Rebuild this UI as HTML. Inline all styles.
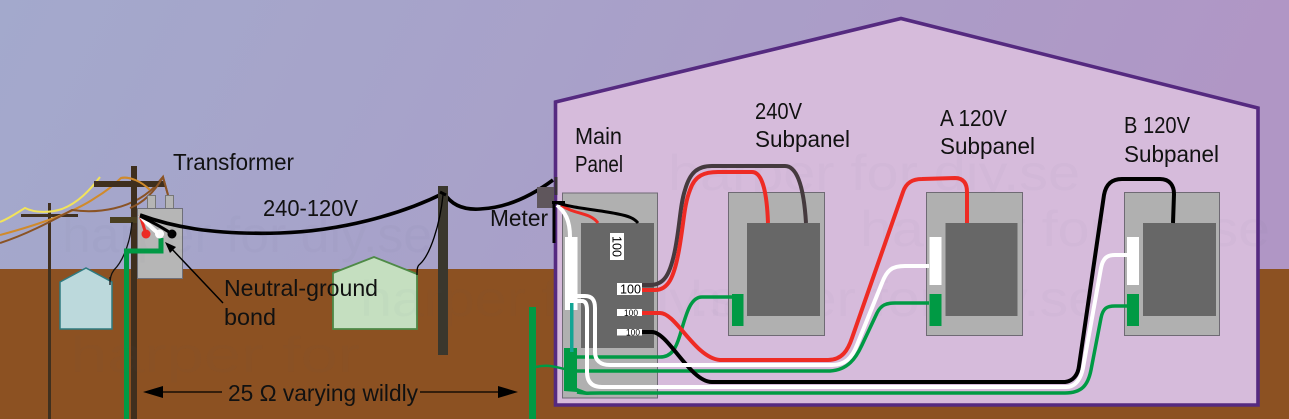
<!DOCTYPE html>
<html><head><meta charset="utf-8"><style>
html,body{margin:0;padding:0;width:1289px;height:419px;overflow:hidden}
svg{display:block}
text{font-family:"Liberation Sans",sans-serif;font-size:23px;fill:#111}
text.w{font-size:50px;fill:#6a5a80;fill-opacity:.03}
text.n{font-size:13px;fill:#000}
</style></head><body>
<svg width="1289" height="419" viewBox="0 0 1289 419" xmlns="http://www.w3.org/2000/svg">
<defs><linearGradient id="sky" x1="0" y1="0" x2="1" y2="0.1"><stop offset="0" stop-color="#a3a9cc"/><stop offset=".45" stop-color="#a8a1c9"/><stop offset="1" stop-color="#b096c5"/></linearGradient></defs>
<rect width="1289" height="270" fill="url(#sky)"/>
<rect y="269" width="1289" height="150" fill="#8c5122"/>

<!-- left poles -->
<rect x="48" y="203" width="3" height="216" fill="#40301f"/>
<rect x="21" y="214" width="57" height="3" fill="#40301f"/>
<g fill="none" stroke-width="2">
<path d="M0 222 C10 218 18 212 25 208 C35 213 50 213 62 209 C78 203 90 190 100 177" stroke="#f2e35a"/>
<path d="M0 235 C30 227 70 215 95 198 C105 192 115 184 121 178 C130 176 142 182 150 190" stroke="#d08a2c"/>
<path d="M0 243 C25 235 50 222 72 210 C100 214 130 208 150 191 C156 186 160 180 163 177 L168 195" stroke="#8a5325"/>
</g>
<rect x="131" y="166" width="6" height="253" fill="#3f2f1e"/>
<rect x="94" y="181" width="71" height="6" fill="#3f2f1e"/>
<rect x="110" y="217" width="27" height="6" fill="#4a3f20"/>
<g fill="none" stroke-width="2">
<path d="M121 178 C130 176 142 182 150 190" stroke="#d08a2c"/>
<path d="M130 208 C140 204 152 196 163 177 L168 195" stroke="#8a5325"/>
</g>
<!-- transformer -->
<rect x="147.500" y="195.500" width="8" height="14" fill="#b5b5b5" stroke="#777"/>
<rect x="165.500" y="195.500" width="8" height="14" fill="#b5b5b5" stroke="#777"/>
<rect x="137.500" y="208.500" width="45" height="70" fill="#b6b6b6" stroke="#6f6f78"/>
<path d="M132 222 C130 245 122 262 114 270 C111 274 110 278 110 285" fill="none" stroke="#111" stroke-width="1.300"/>
<path d="M60 282 L86 268 L112 282 L112 329 L60 329 Z" fill="#bcd9dc" stroke="#2f7a80" stroke-width="1.500"/>
<path d="M110 277 L110 285" stroke="#111" stroke-width="1.300"/>
<path d="M161 238 V251 H126.500 V419" fill="none" stroke="#009a44" stroke-width="5"/>
<path d="M140 215 L146 234" stroke="#ee2b24" stroke-width="3"/>
<circle cx="146" cy="234" r="4.500" fill="#ee2b24"/>
<path d="M140 215 C145 222 152 228 159 234" stroke="#fff" stroke-width="4" fill="none"/>
<circle cx="159.500" cy="234" r="4.500" fill="#fff"/>
<path d="M140 216 C150 221 162 227 172 234" stroke="#000" stroke-width="3" fill="none"/>
<circle cx="172" cy="234" r="4.500" fill="#000"/>
<path d="M140 215 C170 226 210 235 280 233 C340 231 400 215 444 193 C452 206 465 210 480 209 C505 208 530 197 553 180" fill="none" stroke="#000" stroke-width="3.600"/>

<!-- middle pole + house -->
<path d="M333 273 L374 257 L417 274 L417 329 L333 329 Z" fill="#c5dfc0" stroke="#4e8a47" stroke-width="1.800"/>
<rect x="438" y="186" width="10" height="169" fill="#3a372d"/>
<path d="M443 195 C440 225 430 255 420 264 C417 266 417 270 417 275" fill="none" stroke="#000" stroke-width="1.300"/>
<path d="M440 192 L446 195" stroke="#000" stroke-width="3"/>

<!-- building -->
<path d="M555.500 102 L901 18.500 L1258 108 V405 H555.500 Z" fill="#d6bbdb" stroke="#552a80" stroke-width="3.600"/>

<!-- watermarks -->
<text class="w" x="668" y="190" textLength="412" lengthAdjust="spacingAndGlyphs">harper for diy.se</text>
<text class="w" x="860" y="246" textLength="410" lengthAdjust="spacingAndGlyphs">harper for diy.se</text>
<text class="w" x="360" y="316" textLength="410" lengthAdjust="spacingAndGlyphs">harper for diy.se</text>
<text class="w" x="690" y="316" textLength="410" lengthAdjust="spacingAndGlyphs">harper for diy.se</text>
<text class="w" x="62" y="252" textLength="370" lengthAdjust="spacingAndGlyphs">harper for diy.se</text>
<text class="w" x="70" y="372" textLength="290" lengthAdjust="spacingAndGlyphs">harper for</text>

<!-- panels -->
<g fill="#b0b0b0" stroke="#6f6a74" stroke-width="1">
<rect x="562.500" y="193" width="95" height="205"/>
<rect x="728.500" y="192.500" width="96" height="143"/>
<rect x="926.500" y="192.500" width="96" height="143"/>
<rect x="1124.500" y="192.500" width="95" height="143"/>
</g>
<g fill="#676767">
<rect x="581" y="223" width="73" height="125"/>
<rect x="747" y="223" width="73" height="93"/>
<rect x="945.500" y="223" width="72" height="93"/>
<rect x="1143" y="223" width="73" height="93"/>
</g>

<!-- wires -->
<g fill="none" stroke-linejoin="round">
<path d="M577 357 H660 C672 357 676 348 680 335 C686 315 690 297 702 297 H732" stroke="#009a44" stroke-width="3.500"/>
<path d="M577 371 H830 C848 370 856 358 862 345 L877 313 C881 305 886 303 895 303 H929" stroke="#009a44" stroke-width="3.500"/>
<path d="M577 392 C590 394 585 393 600 393 H1065 C1082 393 1088 385 1091 370 L1101 318 C1103 308 1107 306 1115 306 H1127" stroke="#009a44" stroke-width="3.500"/>

<path d="M642 285 H650 C664 285 670 275 675 250 C680 225 680 205 685 190 C690 172 698 166 712 166 H785 C798 166 804 190 806 223" stroke="#453a3e" stroke-width="4"/>
<path d="M642 290 H655 C668 290 674 278 679 250 C684 222 684 205 690 190 C695 175 705 172 718 172 H752 C763 172 767 195 768 223" stroke="#ee2b24" stroke-width="4"/>
<path d="M642 313 H660 C676 313 695 358 720 360 H828 C842 360 848 350 852 338 L903 192 C906 183 912 179 922 179 L955 178 C964 178 967 184 967 192 V223" stroke="#ee2b24" stroke-width="4"/>
<path d="M642 332 H652 C668 332 690 382 712 382 H1065 C1073 381 1078 375 1079 366 L1104 195 C1106 184 1112 179 1122 179 H1160 C1170 179 1174 186 1174 194 L1173 223" stroke="#000" stroke-width="4"/>

<path d="M577 296 H585 C592 296 595 300 595 308 V352 C595 360 600 365 610 365 H832 C845 365 852 358 857 345 L882 283 C887 270 892 266 905 266 H929" stroke="#fff" stroke-width="4"/>
<path d="M577 301 H582 C586 301 587 305 587 310 V372 C587 382 592 387 602 387 H1066 C1076 387 1081 378 1083 368 L1101 268 C1103 258 1107 255 1115 255 H1127" stroke="#fff" stroke-width="4"/>
</g>

<!-- bars -->
<g fill="#009a44">
<rect x="732" y="294" width="11.500" height="32"/>
<rect x="929.500" y="294" width="12" height="32"/>
<rect x="1127" y="294" width="12" height="32"/>
<path d="M564 348 H577 V388 L590 393 L564 391 Z"/>
</g>
<g fill="#fff">
<rect x="929.500" y="237" width="12" height="48"/>
<rect x="1127" y="237" width="12" height="48"/>
<rect x="565" y="237" width="12.500" height="73"/>
</g>
<rect x="570" y="303" width="3.500" height="49" fill="#12a594"/>

<!-- ground rod -->
<rect x="529" y="307" width="7" height="112" fill="#009a44"/>
<path d="M536 367 C548 364 555 367 565 369" fill="none" stroke="#009a44" stroke-width="2.500"/>

<!-- meter -->
<path d="M557 205 C565 212 570 220 570 237" fill="none" stroke="#fff" stroke-width="4"/>
<path d="M561 205 C575 215 590 212 598 223" fill="none" stroke="#ee2b24" stroke-width="3"/>
<path d="M555 202 C570 208 600 210 618 214 C628 216 634 218 638 223" fill="none" stroke="#000" stroke-width="3"/>
<rect x="537" y="187" width="17" height="21" fill="#5f565c"/>
<rect x="554.500" y="177" width="3" height="18" fill="#3a3438"/>
<rect x="552" y="201" width="13" height="3" fill="#000"/>
<rect x="552.500" y="204" width="3" height="39" fill="#000"/>

<!-- breaker labels -->
<rect x="617" y="283" width="25" height="12" fill="#fff"/>
<text class="n" x="620" y="293.500" textLength="21" lengthAdjust="spacingAndGlyphs">100</text>
<rect x="617" y="309" width="25" height="7" fill="#fff"/>
<text class="n" x="624" y="316" style="font-size:9px" textLength="14" lengthAdjust="spacingAndGlyphs">100</text>
<rect x="617" y="329" width="25" height="6.500" fill="#fff"/>
<text class="n" x="626" y="335.500" style="font-size:9px" textLength="14" lengthAdjust="spacingAndGlyphs">100</text>
<rect x="610" y="233" width="14" height="27" fill="#fff"/>
<text class="n" transform="translate(612.500,236) rotate(90)" textLength="21" lengthAdjust="spacingAndGlyphs">100</text>

<!-- arrows -->
<path d="M163 392 H222" stroke="#000" stroke-width="1.300"/>
<path d="M143 392 L163 386 V398 Z" fill="#000"/>
<path d="M420 392 H500" stroke="#000" stroke-width="1.300"/>
<path d="M518 392 L498 386 V398 Z" fill="#000"/>
<path d="M223 303 L170 247" stroke="#000" stroke-width="1.500"/>
<path d="M165 242 L176 247 L170 253 Z" fill="#000"/>

<!-- labels -->
<text x="173" y="170" textLength="121" lengthAdjust="spacingAndGlyphs">Transformer</text>
<text x="263" y="216" textLength="95" lengthAdjust="spacingAndGlyphs">240-120V</text>
<text x="490" y="226" textLength="58" lengthAdjust="spacingAndGlyphs">Meter</text>
<text x="575" y="144" textLength="47" lengthAdjust="spacingAndGlyphs">Main</text>
<text x="575" y="172" textLength="48" lengthAdjust="spacingAndGlyphs">Panel</text>
<text x="755" y="119" textLength="47" lengthAdjust="spacingAndGlyphs">240V</text>
<text x="755" y="147" textLength="95" lengthAdjust="spacingAndGlyphs">Subpanel</text>
<text x="940" y="126" textLength="67" lengthAdjust="spacingAndGlyphs">A 120V</text>
<text x="940" y="154" textLength="95" lengthAdjust="spacingAndGlyphs">Subpanel</text>
<text x="1124" y="133" textLength="66" lengthAdjust="spacingAndGlyphs">B 120V</text>
<text x="1124" y="162" textLength="95" lengthAdjust="spacingAndGlyphs">Subpanel</text>
<text x="224" y="296" textLength="154" lengthAdjust="spacingAndGlyphs">Neutral-ground</text>
<text x="224" y="325" textLength="52" lengthAdjust="spacingAndGlyphs">bond</text>
<text x="228" y="401" textLength="190" lengthAdjust="spacingAndGlyphs">25 Ω varying wildly</text>
</svg>
</body></html>
